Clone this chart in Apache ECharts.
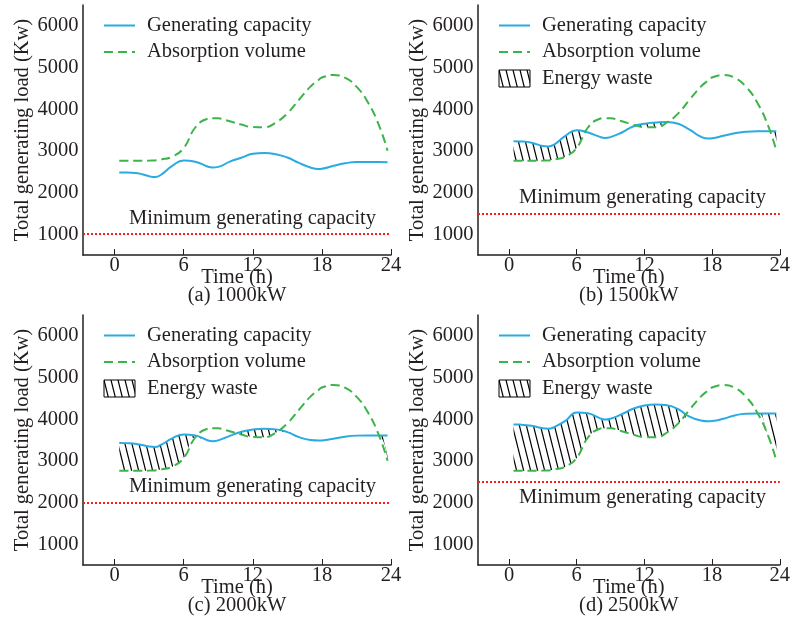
<!DOCTYPE html>
<html>
<head>
<meta charset="utf-8">
<script src="https://cdn.jsdelivr.net/npm/echarts@6/dist/echarts.min.js"></script>
<style>
html, body { margin: 0; padding: 0; background: #fff; }
#main { width: 793px; height: 630px; }
</style>
</head>
<body>
<div id="main"></div>
<script>
// hours of the day where the curves were read
var hours = [0.4, 1, 2, 3, 3.5, 4, 5, 6, 7, 8, 8.5, 9, 10, 11, 12, 13, 14, 15, 16, 17, 17.7, 18, 19, 20, 21, 22, 23, 23.7];

// absorption volume (same in all four cases)
var absorption = [2760, 2760, 2760, 2765, 2770, 2790, 2860, 3070, 3560, 3765, 3785, 3780, 3710, 3630, 3570, 3565, 3680, 3900, 4225, 4540, 4700, 4760, 4820, 4755, 4540, 4160, 3580, 3000];

// generating capacity for each minimum generating capacity case
var gen1000 = [2480, 2480, 2460, 2390, 2370, 2420, 2640, 2770, 2740, 2630, 2600, 2615, 2740, 2835, 2930, 2950, 2920, 2840, 2710, 2600, 2565, 2570, 2640, 2700, 2735, 2735, 2730, 2725];
var gen1500 = [3230, 3225, 3195, 3115, 3105, 3150, 3360, 3495, 3440, 3340, 3310, 3330, 3440, 3585, 3650, 3680, 3695, 3650, 3510, 3340, 3295, 3300, 3360, 3420, 3460, 3470, 3470, 3470];
var gen2000 = [3430, 3425, 3400, 3345, 3335, 3380, 3540, 3635, 3610, 3500, 3470, 3490, 3600, 3700, 3750, 3770, 3755, 3690, 3570, 3500, 3488, 3490, 3530, 3580, 3605, 3610, 3610, 3610];
var gen2500 = [3875, 3870, 3840, 3780, 3770, 3810, 3960, 4160, 4140, 4030, 3990, 4010, 4120, 4250, 4330, 4355, 4335, 4240, 4060, 3970, 3950, 3955, 4010, 4090, 4130, 4135, 4135, 4135];

var minCapacity = [1000, 1500, 2000, 2500];
var captions = ['(a) 1000kW', '(b) 1500kW', '(c) 2000kW', '(d) 2500kW'];
var xTicks = [0, 6, 12, 18, 24];
var yTicks = [1000, 2000, 3000, 4000, 5000, 6000];

var genSets = [gen1000, gen1500, gen2000, gen2500];

// layout
var boxes = [
  { left: 83, top: 5, labelShift: 46, below: false },
  { left: 478, top: 5, labelShift: 41, below: false },
  { left: 83, top: 315, labelShift: 46, below: false },
  { left: 478, top: 315, labelShift: 41, below: true }
];
var FONT = 'Liberation Serif';
var FS = 20.5;
var TEXT = '#231f20';
var BLUE = '#29abe2';
var GREEN = '#3cb44a';

function makeHatch() {
  var c = document.createElement('canvas');
  c.width = 7;
  c.height = 28;
  var ctx = c.getContext('2d');
  ctx.strokeStyle = '#000';
  ctx.lineWidth = 1.2;
  [-7, 0, 7].forEach(function (dx) {
    ctx.beginPath();
    ctx.moveTo(dx, 0);
    ctx.lineTo(dx + 7, 28);
    ctx.stroke();
  });
  return { image: c, repeat: 'repeat' };
}
var hatch = makeHatch();

function pairs(ys) {
  return hours.map(function (h, k) { return [h, ys[k]]; });
}
// value first, hour second: lets the stack run on the y values
function stackPairs(ys) {
  return hours.map(function (h, k) { return [ys[k], h]; });
}

var option = { animation: false, grid: [], xAxis: [], yAxis: [], legend: [], series: [] };

boxes.forEach(function (b, i) {
  var textStyle = { fontFamily: FONT, fontSize: FS, color: TEXT };
  option.grid.push({ left: b.left, top: b.top, width: 308, height: 250 });

  option.xAxis.push({
    type: 'value', gridIndex: i, min: -2.75, max: 24,
    name: 'Time (h)\n' + captions[i], nameLocation: 'middle', nameGap: 13,
    nameMoveOverlap: false,
    nameTextStyle: { fontFamily: FONT, fontSize: FS, color: TEXT, lineHeight: 18.5 },
    axisLine: { show: true, onZero: false, lineStyle: { color: TEXT, width: 1.5 } },
    axisTick: { show: true, inside: true, length: 6, customValues: xTicks, lineStyle: { color: TEXT } },
    axisLabel: Object.assign({ customValues: xTicks, margin: 0 }, textStyle),
    splitLine: { show: false }
  });

  option.yAxis.push({
    type: 'value', gridIndex: i, min: 500, max: 6500,
    name: 'Total generating load (Kw)', nameLocation: 'middle', nameGap: 50,
    nameMoveOverlap: false,
    nameTextStyle: textStyle,
    axisLine: { show: true, onZero: false, lineStyle: { color: TEXT, width: 1.5 } },
    axisTick: { show: false },
    axisLabel: Object.assign({
      customValues: yTicks, margin: 4.5,
      formatter: function (v) { return String(v); }
    }, textStyle),
    splitLine: { show: false }
  });

  var noDot = { opacity: 0 };
  var legendData = [
    { name: 'Generating capacity', itemStyle: noDot },
    { name: 'Absorption volume', itemStyle: noDot }
  ];
  if (i > 0) {
    legendData.push({ name: 'Energy waste', icon: 'rect',
      itemStyle: { color: hatch, borderColor: '#000', borderWidth: 1 } });
  }
  option.legend.push({
    left: b.left + 20, top: b.top + 10, orient: 'vertical', padding: 0,
    itemGap: 5.5, itemWidth: 31, itemHeight: 17, selectedMode: false,
    data: legendData,
    textStyle: { fontFamily: FONT, fontSize: FS, color: TEXT, padding: [0, 0, 0, 7] }
  });

  var gen = genSets[i];
  option.series.push({
    name: 'Generating capacity', type: 'line', xAxisIndex: i, yAxisIndex: i,
    smooth: true, symbol: 'none', data: pairs(gen), z: 3,
    lineStyle: { color: BLUE, width: 2 }, itemStyle: { color: BLUE }
  });
  option.series.push({
    name: 'Absorption volume', type: 'line', xAxisIndex: i, yAxisIndex: i,
    smooth: true, symbol: 'none', data: pairs(absorption), z: 3,
    lineStyle: { color: GREEN, width: 2, type: [9, 5] }, itemStyle: { color: GREEN },
    markLine: {
      silent: true, symbol: 'none', animation: false,
      data: [{ yAxis: minCapacity[i] }],
      lineStyle: { color: '#ff1a1a', type: 'dotted', width: 2 },
      label: {
        formatter: 'Minimum generating capacity',
        position: b.below ? 'insideStartBottom' : 'insideStartTop',
        distance: [b.labelShift, 5],
        fontFamily: FONT, fontSize: FS, color: TEXT
      }
    }
  });

  if (i > 0) {
    // hatched region: where generation exceeds absorption
    var low = gen.map(function (g, k) { return Math.min(g, absorption[k]); });
    var excess = gen.map(function (g, k) { return Math.max(0, g - absorption[k]); });
    option.series.push({
      name: 'base' + i, type: 'line', xAxisIndex: i, yAxisIndex: i, stack: 'w' + i,
      encode: { x: 1, y: 0 },
      smooth: true, symbol: 'none', silent: true, data: stackPairs(low), z: 1,
      lineStyle: { opacity: 0 }
    });
    option.series.push({
      name: 'Energy waste', type: 'line', xAxisIndex: i, yAxisIndex: i, stack: 'w' + i,
      encode: { x: 1, y: 0 },
      smooth: true, symbol: 'none', silent: true, data: stackPairs(excess), z: 1,
      lineStyle: { opacity: 0 }, itemStyle: { color: '#000' },
      areaStyle: { color: hatch, opacity: 1 }
    });
  }
});

var myChart = echarts.init(document.getElementById('main'));
myChart.setOption(option);
</script>
</body>
</html>
